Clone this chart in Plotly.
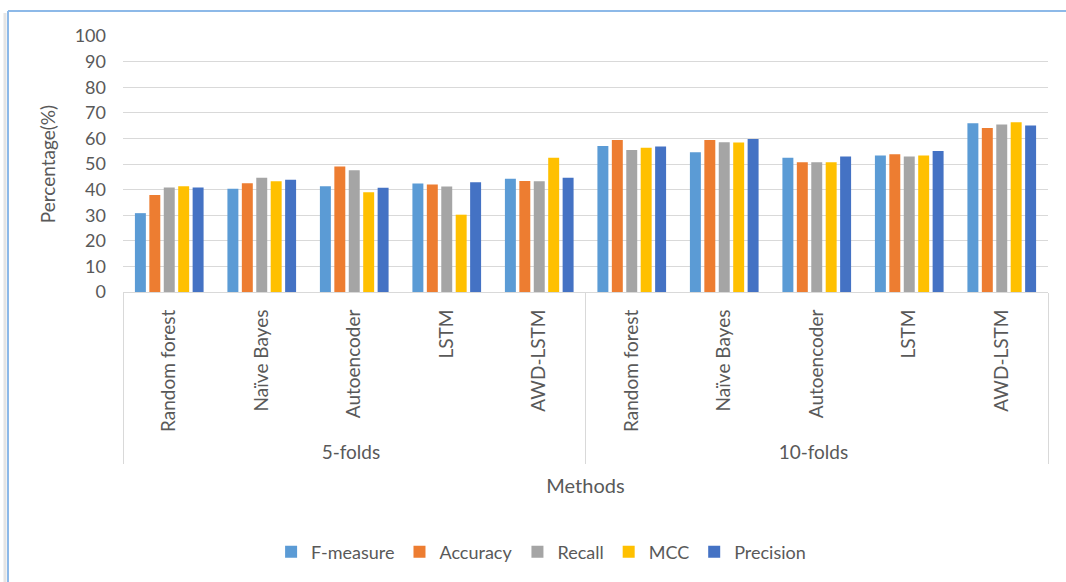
import plotly.graph_objects as go

# Evaluation scores (%) per method under 5-fold and 10-fold cross-validation
folds = ["5-folds"] * 5 + ["10-folds"] * 5
methods = ["Random forest", "Naïve Bayes", "Autoencoder", "LSTM", "AWD-LSTM"] * 2

f_measure = [30.8, 40.3, 41.3, 42.4, 44.2, 57.0, 54.6, 52.4, 53.3, 65.9]
accuracy = [37.9, 42.5, 49.0, 42.0, 43.4, 59.4, 59.4, 50.7, 53.8, 64.1]
recall = [40.8, 44.6, 47.6, 41.2, 43.3, 55.5, 58.5, 50.7, 52.9, 65.4]
mcc = [41.3, 43.3, 39.0, 30.2, 52.4, 56.3, 58.4, 50.7, 53.3, 66.3]
precision = [40.8, 43.8, 40.7, 42.9, 44.6, 56.8, 59.8, 52.9, 55.1, 65.0]

series = [
    ("F-measure", f_measure, "#5B9BD5"),
    ("Accuracy", accuracy, "#ED7D31"),
    ("Recall", recall, "#A5A5A5"),
    ("MCC", mcc, "#FFC000"),
    ("Precision", precision, "#4472C4"),
]

FONT = "Lato, Calibri, sans-serif"
TXT = "#595959"
GRID = "#D9D9D9"

fig = go.Figure()
for name, vals, color in series:
    fig.add_trace(go.Bar(
        name=name,
        x=[folds, methods],
        y=vals,
        marker=dict(color=color, line=dict(width=0)),
    ))

fig.update_layout(
    width=1066,
    height=582,
    barmode="group",
    bargap=0.22,
    bargroupgap=0.24,
    paper_bgcolor="white",
    plot_bgcolor="white",
    margin=dict(l=123, r=18, t=36, b=290),
    font=dict(family=FONT, size=18, color=TXT),
    showlegend=True,
    legend=dict(
        orientation="h",
        x=0.452, xanchor="center",
        y=-1.016, yanchor="middle",
        font=dict(family=FONT, size=18, color=TXT),
        itemwidth=30,
        traceorder="normal",
    ),
    xaxis=dict(
        type="multicategory",
        tickangle=-90,
        showline=True,
        linecolor=GRID,
        linewidth=1,
        showgrid=False,
        showdividers=True,
        dividercolor=GRID,
        dividerwidth=1,
        ticks="",
        ticklabelstandoff=9,
        tickfont=dict(family=FONT, size=19, color=TXT),
        title=dict(text="Methods", font=dict(family=FONT, size=20, color=TXT), standoff=16),
    ),
    yaxis=dict(
        range=[0, 100],
        dtick=10,
        showgrid=True,
        gridcolor=GRID,
        gridwidth=1,
        zeroline=False,
        showline=False,
        ticks="",
        ticklabelstandoff=16,
        tickfont=dict(family=FONT, size=18, color=TXT),
        title=dict(text="Percentage(%)", font=dict(family=FONT, size=19, color=TXT), standoff=14),
    ),
)

# Chart frame: light-blue top and left edges with a soft grey shadow on the left
fig.add_shape(type="line", xref="paper", yref="paper",
              x0=(5 - 123) / 925, x1=(5 - 123) / 925, y0=(292 - 13) / 256, y1=(292 - 600) / 256,
              line=dict(color="#E4E4E4", width=3))
fig.add_shape(type="line", xref="paper", yref="paper",
              x0=(8 - 123) / 925, x1=(1070 - 123) / 925, y0=(292 - 11) / 256, y1=(292 - 11) / 256,
              line=dict(color="#8DB9E8", width=2))
fig.add_shape(type="line", xref="paper", yref="paper",
              x0=(8 - 123) / 925, x1=(8 - 123) / 925, y0=(292 - 11) / 256, y1=(292 - 600) / 256,
              line=dict(color="#8DB9E8", width=2))

fig.write_html("out.html")
